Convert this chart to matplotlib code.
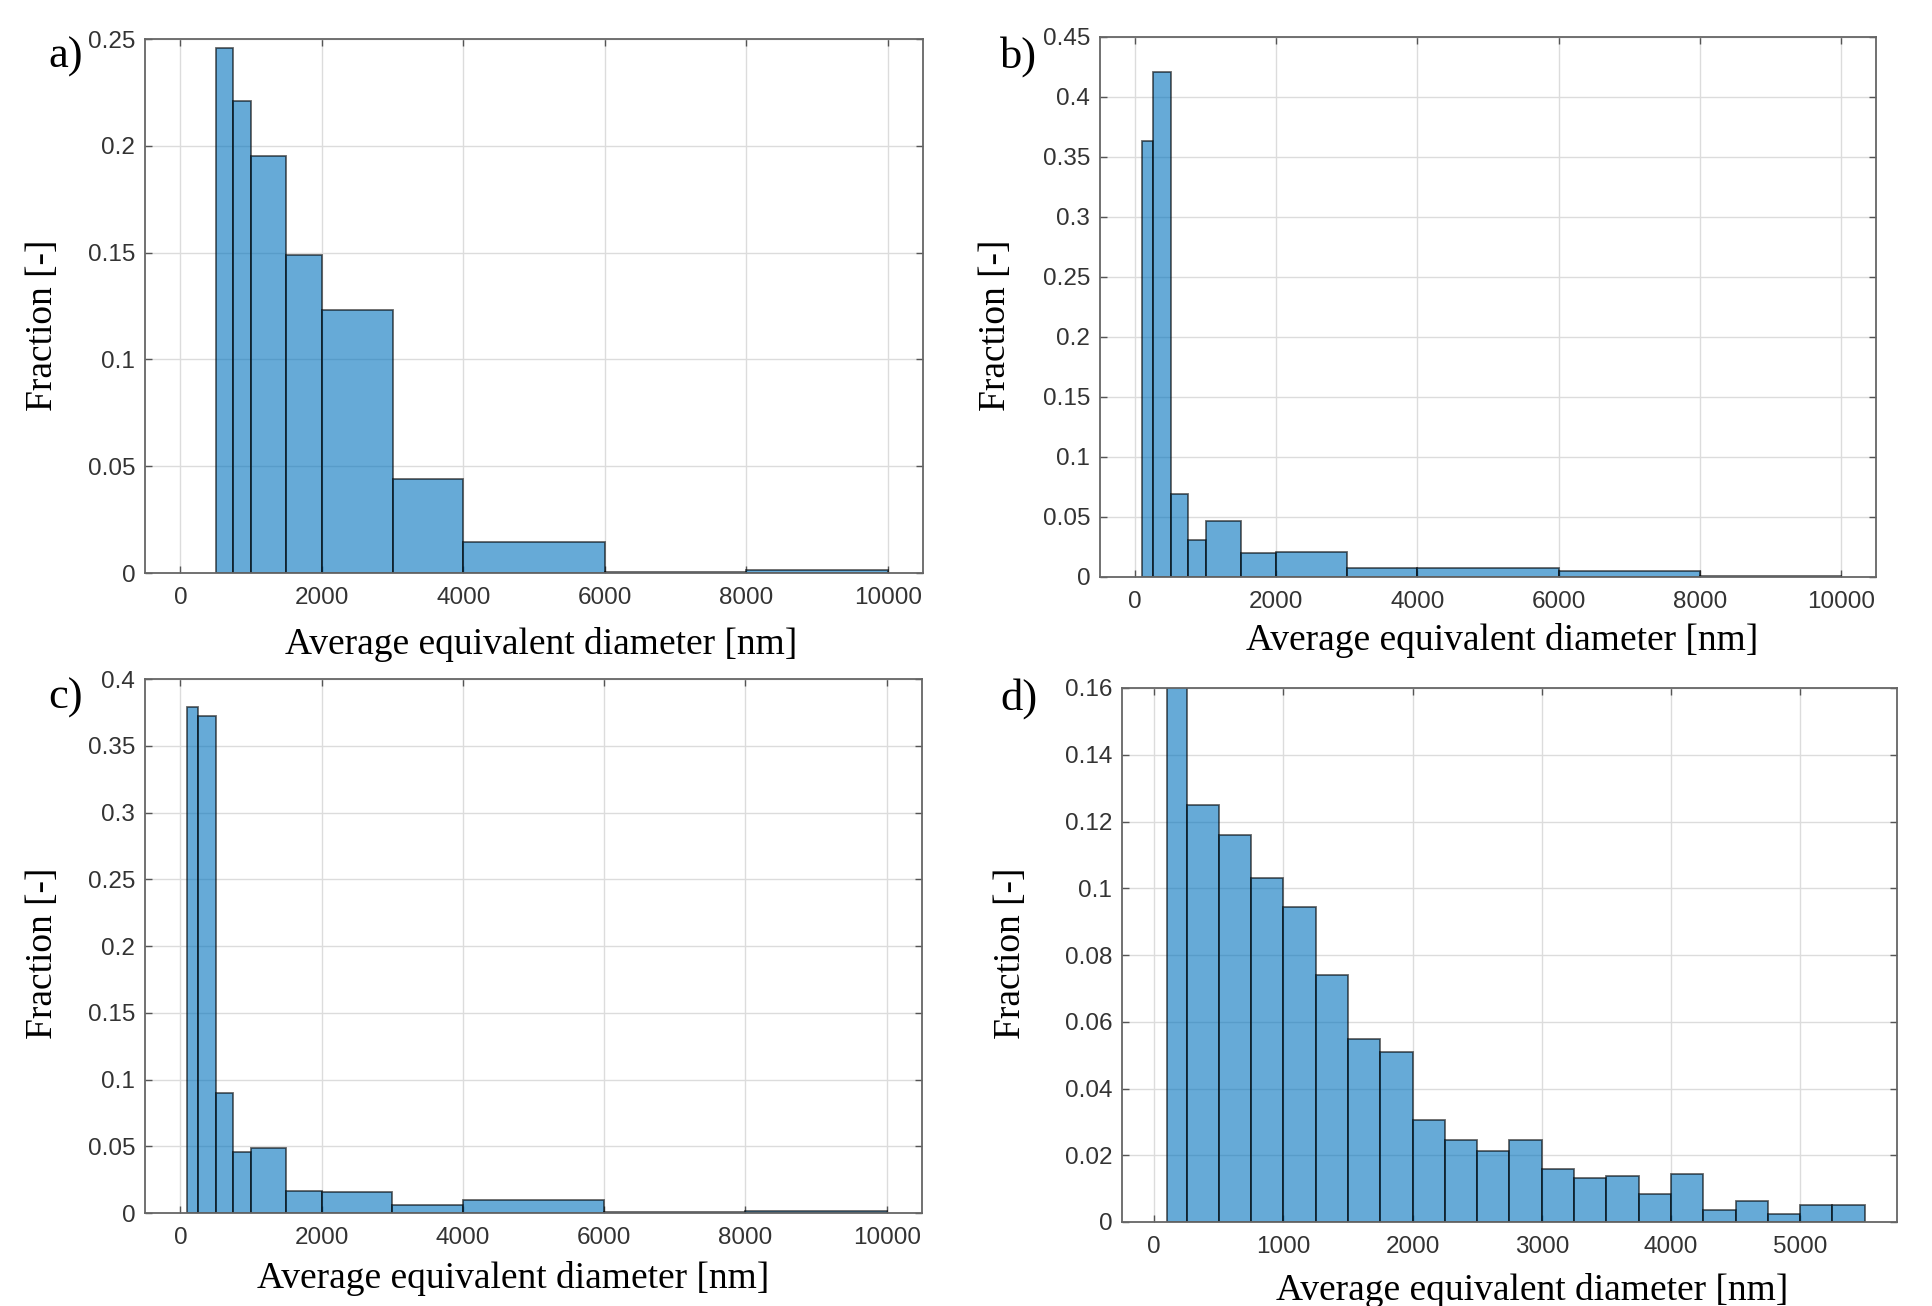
import numpy as np
import matplotlib
matplotlib.use("Agg")
import matplotlib.pyplot as plt

W, H = 1933, 1306

# bin edges [nm] and fractions per panel
edges_a = [500, 750, 1000, 1500, 2000, 3000, 4000, 6000, 8000, 10000]
frac_a = [0.246, 0.221, 0.195, 0.149, 0.123, 0.044, 0.0145, 0.0006, 0.0015]

edges_b = [100, 250, 500, 750, 1000, 1500, 2000, 3000, 4000, 6000, 8000, 10000]
frac_b = [0.363, 0.421, 0.069, 0.031, 0.047, 0.020, 0.021, 0.0078, 0.0078, 0.005, 0.001]

edges_c = [100, 250, 500, 750, 1000, 1500, 2000, 3000, 4000, 6000, 8000, 10000]
frac_c = [0.379, 0.372, 0.090, 0.046, 0.049, 0.0165, 0.0155, 0.0058, 0.0098, 0.0008, 0.0018]

edges_d = [100, 250, 500, 750, 1000, 1250, 1500, 1750, 2000, 2250, 2500, 2750,
           3000, 3250, 3500, 3750, 4000, 4250, 4500, 4750, 5000, 5250, 5500]
frac_d = [0.168, 0.125, 0.116, 0.103, 0.0945, 0.074, 0.0547, 0.051, 0.0307, 0.0247,
          0.0213, 0.0247, 0.016, 0.0132, 0.0139, 0.0084, 0.0144, 0.0037, 0.0063,
          0.0024, 0.005, 0.005]

xticks_wide = [0, 2000, 4000, 6000, 8000, 10000]
xticks_d = [0, 1000, 2000, 3000, 4000, 5000]
yticks_a = [0, 0.05, 0.1, 0.15, 0.2, 0.25]
yticks_b = [0, 0.05, 0.1, 0.15, 0.2, 0.25, 0.3, 0.35, 0.4, 0.45]
yticks_c = [0, 0.05, 0.1, 0.15, 0.2, 0.25, 0.3, 0.35, 0.4]
yticks_d = [0, 0.02, 0.04, 0.06, 0.08, 0.1, 0.12, 0.14, 0.16]

XLABEL = "Average equivalent diameter [nm]"
YLABEL = "Fraction [-]"
SERIF = "Liberation Serif"
SANS = "Liberation Sans"
TICK_COL = "#333333"


def fmt(v):
    return "0" if v == 0 else f"{v:g}"


def panel(fig, box, edges, frac, xlim, xticks, ylim, yticks):
    l, t, r, b = box
    ax = fig.add_axes([l / W, 1 - b / H, (r - l) / W, (b - t) / H])
    e = np.array(edges)
    ax.bar(e[:-1], frac, width=np.diff(e), align="edge", color="#0072BD",
           alpha=0.6, edgecolor="black", linewidth=1.3, zorder=2)
    ax.set_xlim(*xlim); ax.set_ylim(*ylim)
    ax.set_xticks(xticks); ax.set_yticks(yticks)
    ax.set_xticklabels([fmt(v) for v in xticks], family=SANS, fontsize=17.5, color=TICK_COL)
    ax.set_yticklabels([fmt(v) for v in yticks], family=SANS, fontsize=17.5, color=TICK_COL)
    ax.tick_params(direction="in", length=5, width=1, color="#555555",
                   top=True, right=True, pad=7)
    ax.tick_params(axis="x", pad=10)
    ax.grid(True, color="#dcdcdc", lw=1, zorder=0)
    ax.set_axisbelow(True)
    for s in ax.spines.values():
        s.set_color("#666666"); s.set_linewidth(1.3)
    return ax


def label(fig, x, y, s, **kw):
    fig.text(x / W, 1 - y / H, s, family=SERIF, ha="center", va="center", **kw)


fig = plt.figure(figsize=(W / 100, H / 100), dpi=100)

panel(fig, (145, 39, 923, 573), edges_a, frac_a, (-500, 10500), xticks_wide, (0, 0.25), yticks_a)
panel(fig, (1100, 37, 1876, 577), edges_b, frac_b, (-500, 10500), xticks_wide, (0, 0.45), yticks_b)
panel(fig, (145, 679, 922, 1213), edges_c, frac_c, (-500, 10500), xticks_wide, (0, 0.4), yticks_c)
panel(fig, (1122, 688, 1897, 1222), edges_d, frac_d, (-250, 5750), xticks_d, (0, 0.16), yticks_d)

for x, y, s in [(66, 57, "a)"), (1019, 57, "b)"), (66, 698, "c)"), (1019, 699, "d)")]:
    label(fig, x, y, s, fontsize=32)
for x, y in [(43, 325), (996, 325), (43, 953), (1011, 953)]:
    label(fig, x, y, YLABEL, fontsize=27, rotation=90)
for x, y in [(541, 644), (1502, 641), (513, 1278), (1532, 1291)]:
    label(fig, x, y, XLABEL, fontsize=27)

fig.savefig("out.png", dpi=100)
